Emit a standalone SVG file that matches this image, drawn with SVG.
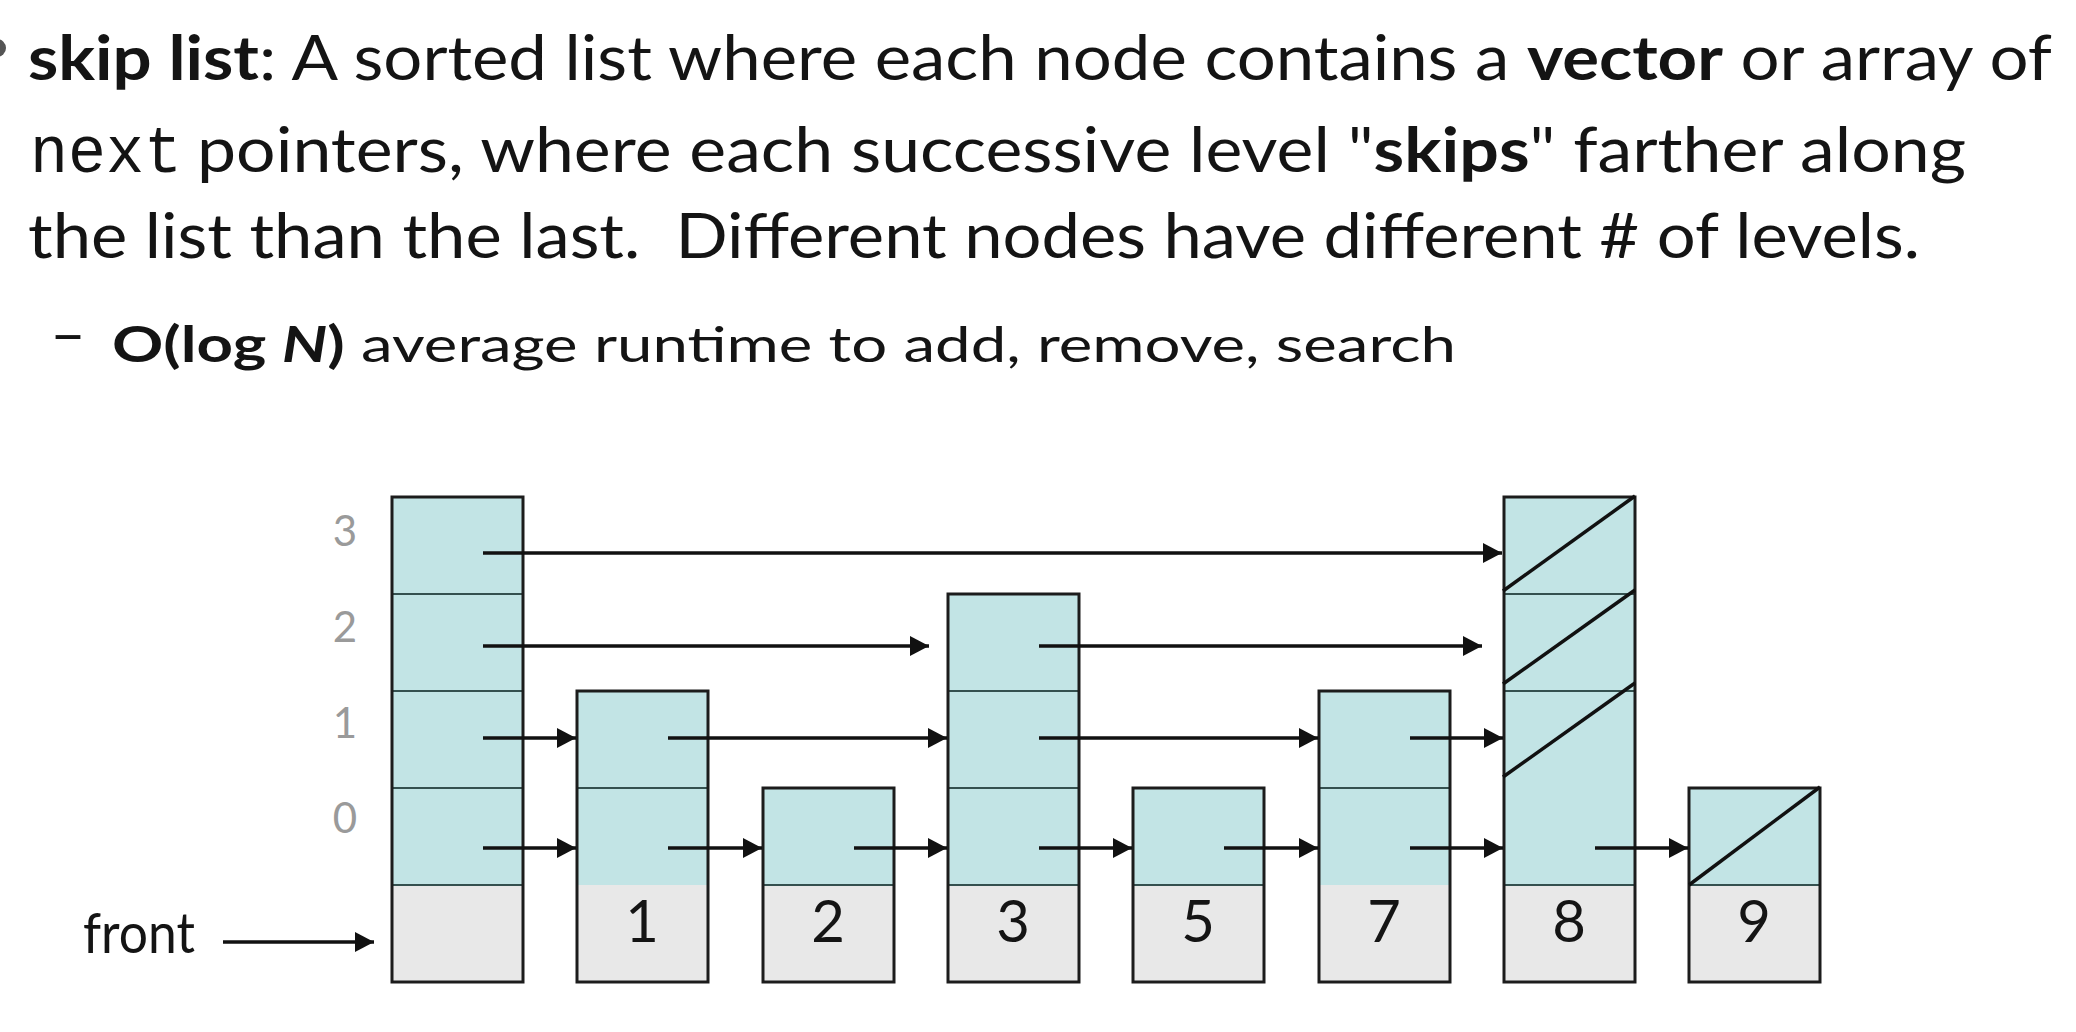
<svg xmlns="http://www.w3.org/2000/svg" width="2076" height="1032" viewBox="0 0 2076 1032">
<style>
.t{font-family:Lato,"Open Sans","Liberation Sans",sans-serif;fill:#141414}
.b{font-weight:bold}
.mono{font-family:"Liberation Mono","DejaVu Sans Mono",monospace;fill:#141414}
.lvl{font-family:Lato,"Liberation Sans",sans-serif;font-size:42px;fill:#9a9a9a;text-anchor:middle}
.val{font-family:Lato,"Liberation Sans",sans-serif;font-size:58px;fill:#141414;text-anchor:middle}
.teal{fill:#c2e4e5}
.gray{fill:#e8e8e8}
.box{fill:none;stroke:#1c1c1c;stroke-width:3}
.sep{stroke:#34504f;stroke-width:2}
.slash{stroke:#111;stroke-width:3.5}
.ar{stroke:#111;stroke-width:3.5;fill:none;marker-end:url(#ah)}
</style>
<defs>
<marker id="ah" markerUnits="userSpaceOnUse" markerWidth="19" markerHeight="20" refX="19" refY="10" orient="auto">
<path d="M0,0 L19,10 L0,20 z" fill="#111"/>
</marker>
</defs>
<rect width="2076" height="1032" fill="#ffffff"/>
<g id="text">
<circle cx="-3" cy="48" r="9" fill="#555"/>
<text class="t" x="28" y="80" font-size="62" textLength="2024" lengthAdjust="spacingAndGlyphs"><tspan class="b">skip list</tspan>: A sorted list where each node contains a <tspan class="b">vector</tspan> or array of</text>
<text class="mono" x="30" y="172" font-size="66" textLength="152" lengthAdjust="spacingAndGlyphs">next</text>
<text class="t" x="197" y="172" font-size="62" textLength="1769" lengthAdjust="spacingAndGlyphs">pointers, where each successive level "<tspan class="b">skips</tspan>" farther along</text>
<text class="t" x="28" y="258" font-size="62" textLength="1892" lengthAdjust="spacingAndGlyphs" xml:space="preserve">the list than the last.  Different nodes have different # of levels.</text>
<text class="t" x="50" y="355" font-size="60" textLength="36" lengthAdjust="spacingAndGlyphs">–</text>
<text class="t" x="112" y="362" font-size="49" textLength="1344" lengthAdjust="spacingAndGlyphs"><tspan class="b">O(log <tspan font-style="italic">N</tspan>)</tspan> average runtime to add, remove, search</text>
</g>
<g id="level-labels">
<text class="lvl" x="345" y="546">3</text>
<text class="lvl" x="345" y="642">2</text>
<text class="lvl" x="345" y="738">1</text>
<text class="lvl" x="345" y="833">0</text>
</g>
<g id="front-label">
<text class="t" x="83" y="953" font-size="56" textLength="112" lengthAdjust="spacingAndGlyphs">front</text>
</g>
<g id="node-front">
<rect class="teal" x="392" y="497" width="131" height="388"/>
<rect class="gray" x="392" y="885" width="131" height="97"/>
<line class="sep" x1="392" y1="594" x2="523" y2="594"/>
<line class="sep" x1="392" y1="691" x2="523" y2="691"/>
<line class="sep" x1="392" y1="788" x2="523" y2="788"/>
<line class="sep" x1="392" y1="885" x2="523" y2="885"/>
<rect class="box" x="392" y="497" width="131" height="485"/>
</g>
<g id="node-1">
<rect class="teal" x="577" y="691" width="131" height="194"/>
<rect class="gray" x="577" y="885" width="131" height="97"/>
<line class="sep" x1="577" y1="788" x2="708" y2="788"/>
<rect class="box" x="577" y="691" width="131" height="291"/>
<text class="val" x="642" y="942">1</text>
</g>
<g id="node-2">
<rect class="teal" x="763" y="788" width="131" height="97"/>
<rect class="gray" x="763" y="885" width="131" height="97"/>
<line class="sep" x1="763" y1="885" x2="894" y2="885"/>
<rect class="box" x="763" y="788" width="131" height="194"/>
<text class="val" x="828" y="942">2</text>
</g>
<g id="node-3">
<rect class="teal" x="948" y="594" width="131" height="291"/>
<rect class="gray" x="948" y="885" width="131" height="97"/>
<line class="sep" x1="948" y1="691" x2="1079" y2="691"/>
<line class="sep" x1="948" y1="788" x2="1079" y2="788"/>
<line class="sep" x1="948" y1="885" x2="1079" y2="885"/>
<rect class="box" x="948" y="594" width="131" height="388"/>
<text class="val" x="1013" y="942">3</text>
</g>
<g id="node-5">
<rect class="teal" x="1133" y="788" width="131" height="97"/>
<rect class="gray" x="1133" y="885" width="131" height="97"/>
<line class="sep" x1="1133" y1="885" x2="1264" y2="885"/>
<rect class="box" x="1133" y="788" width="131" height="194"/>
<text class="val" x="1198" y="942">5</text>
</g>
<g id="node-7">
<rect class="teal" x="1319" y="691" width="131" height="194"/>
<rect class="gray" x="1319" y="885" width="131" height="97"/>
<line class="sep" x1="1319" y1="788" x2="1450" y2="788"/>
<rect class="box" x="1319" y="691" width="131" height="291"/>
<text class="val" x="1384" y="942">7</text>
</g>
<g id="node-8">
<rect class="teal" x="1504" y="497" width="131" height="388"/>
<rect class="gray" x="1504" y="885" width="131" height="97"/>
<line class="sep" x1="1504" y1="594" x2="1635" y2="594"/>
<line class="sep" x1="1504" y1="691" x2="1635" y2="691"/>
<line class="sep" x1="1504" y1="885" x2="1635" y2="885"/>
<rect class="box" x="1504" y="497" width="131" height="485"/>
<line class="slash" x1="1503" y1="591" x2="1635" y2="496"/>
<line class="slash" x1="1503" y1="684" x2="1635" y2="590"/>
<line class="slash" x1="1503" y1="777" x2="1635" y2="683"/>
<text class="val" x="1569" y="942">8</text>
</g>
<g id="node-9">
<rect class="teal" x="1689" y="788" width="131" height="97"/>
<rect class="gray" x="1689" y="885" width="131" height="97"/>
<line class="sep" x1="1689" y1="885" x2="1820" y2="885"/>
<rect class="box" x="1689" y="788" width="131" height="194"/>
<line class="slash" x1="1689" y1="885" x2="1820" y2="787"/>
<text class="val" x="1754" y="942">9</text>
</g>
<g id="connectors">
<line class="ar" x1="223" y1="942" x2="374" y2="942"/>
<line class="ar" x1="483" y1="553" x2="1502" y2="553"/>
<line class="ar" x1="483" y1="646" x2="929" y2="646"/>
<line class="ar" x1="1039" y1="646" x2="1482" y2="646"/>
<line class="ar" x1="483" y1="738" x2="576" y2="738"/>
<line class="ar" x1="668" y1="738" x2="947" y2="738"/>
<line class="ar" x1="1039" y1="738" x2="1318" y2="738"/>
<line class="ar" x1="1410" y1="738" x2="1503" y2="738"/>
<line class="ar" x1="483" y1="848" x2="576" y2="848"/>
<line class="ar" x1="668" y1="848" x2="762" y2="848"/>
<line class="ar" x1="854" y1="848" x2="947" y2="848"/>
<line class="ar" x1="1039" y1="848" x2="1132" y2="848"/>
<line class="ar" x1="1224" y1="848" x2="1318" y2="848"/>
<line class="ar" x1="1410" y1="848" x2="1503" y2="848"/>
<line class="ar" x1="1595" y1="848" x2="1688" y2="848"/>
</g>
</svg>
